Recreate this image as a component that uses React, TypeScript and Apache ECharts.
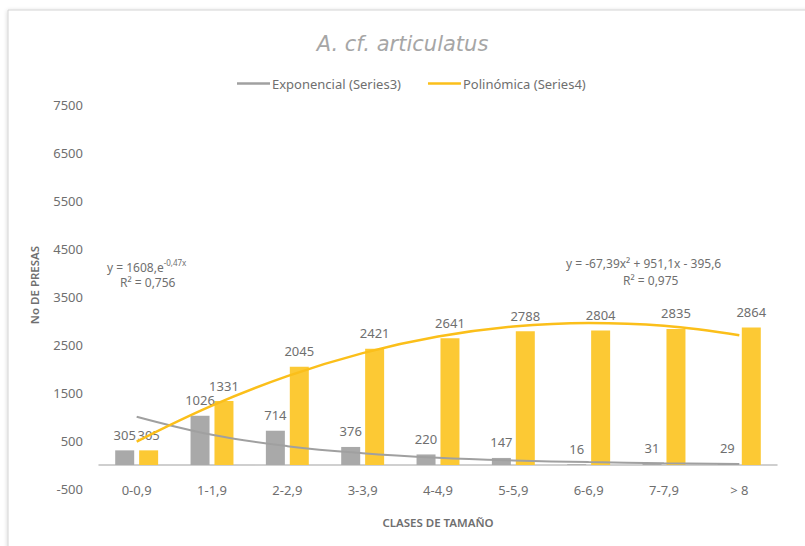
import React, { useEffect, useRef } from "react";
import * as echarts from "echarts";

const categories = ["0-0,9", "1-1,9", "2-2,9", "3-3,9", "4-4,9", "5-5,9", "6-6,9", "7-7,9", "> 8"];
const series3Values = [305, 1026, 714, 376, 220, 147, 16, 31, 29];
const series4Values = [305, 1331, 2045, 2421, 2641, 2788, 2804, 2835, 2864];
// trend curves at each category centre
const expTrendValues = [1005, 630, 393, 246, 153, 96, 60, 37, 23];
const polyTrendValues = [488, 1237, 1851, 2331, 2675, 2885, 2960, 2900, 2705];
const yMin = -500;
const yMax = 7500;
const yInterval = 1000;

const FONT = "'Noto Sans', sans-serif";
const GRAY = "#a9a9a9";
const YELLOW = "#fcc934";
const TEXT = "#6f6f6f";

export default function App() {
  const ref = useRef<HTMLDivElement>(null);
  useEffect(() => {
    if (!ref.current) return;
    const chart = echarts.init(ref.current, null, { renderer: "svg", width: 805, height: 546 });
    const labelStyle = {
      show: true,
      position: "top" as const,
      distance: 9,
      color: TEXT,
      fontFamily: FONT,
      fontSize: 13,
    };
    chart.setOption({
      animation: false,
      backgroundColor: "#ffffff",
      title: {
        text: "A. cf. articulatus",
        left: "center",
        top: 28,
        textStyle: {
          fontFamily: "'DejaVu Sans', sans-serif",
          fontStyle: "italic",
          fontWeight: "normal",
          fontSize: 21,
          color: "#a6a6a6",
        },
      },
      legend: {
        data: ["Exponencial (Series3)", "Polinómica (Series4)"],
        left: 232,
        top: 72,
        icon: "rect",
        itemWidth: 33,
        itemHeight: 2.5,
        itemGap: 27,
        textStyle: { fontFamily: FONT, fontSize: 13, color: TEXT, padding: [0, 0, 0, -3] },
      },
      grid: { left: 99, right: 28, top: 105, bottom: 57, outerBoundsMode: "none" },
      xAxis: {
        type: "category",
        data: categories,
        axisLine: { onZero: true, lineStyle: { color: "#c0c0c0", width: 1.5 } },
        axisTick: { show: false },
        axisLabel: { color: TEXT, fontFamily: FONT, fontSize: 13, margin: -6 },
        name: "CLASES DE TAMAÑO",
        nameLocation: "middle",
        nameGap: 27,
        nameTextStyle: { color: TEXT, fontFamily: FONT, fontSize: 11.5, fontWeight: 600 },
      },
      yAxis: {
        type: "value",
        min: yMin,
        max: yMax,
        interval: yInterval,
        splitLine: { show: false },
        axisLine: { show: false },
        axisTick: { show: false },
        axisLabel: {
          color: TEXT,
          fontFamily: FONT,
          fontSize: 13,
          margin: 16,
          formatter: (v: number) => String(v),
        },
      },
      series: [
        {
          name: "Series3",
          type: "bar",
          data: series3Values,
          barWidth: 19,
          barGap: "26%",
          itemStyle: { color: GRAY },
          label: labelStyle,
        },
        {
          name: "Series4",
          type: "bar",
          data: series4Values,
          barWidth: 19,
          barGap: "26%",
          itemStyle: { color: YELLOW },
          label: labelStyle,
        },
        {
          name: "Exponencial (Series3)",
          type: "line",
          data: expTrendValues,
          smooth: 0.4,
          showSymbol: false,
          symbol: "none",
          lineStyle: { color: "#a0a0a0", width: 2 },
          itemStyle: { color: "#a0a0a0" },
          z: 5,
        },
        {
          name: "Polinómica (Series4)",
          type: "line",
          data: polyTrendValues,
          smooth: 0.4,
          showSymbol: false,
          symbol: "none",
          lineStyle: { color: "#fbbf1a", width: 2.5 },
          itemStyle: { color: "#fbbf1a" },
          z: 5,
        },
      ],
      graphic: [
        {
          type: "rect",
          z: -10,
          silent: true,
          shape: { x: 8, y: 10, width: 830, height: 560 },
          style: {
            fill: "#ffffff",
            stroke: "#d4d4d4",
            lineWidth: 1,
            shadowBlur: 4,
            shadowColor: "rgba(0,0,0,0.18)",
            shadowOffsetX: 0,
            shadowOffsetY: 1,
          },
        },
        {
          type: "text",
          x: 34,
          y: 285,
          rotation: Math.PI / 2,
          style: {
            text: "No DE PRESAS",
            fontFamily: FONT,
            fontSize: 11.5,
            fontWeight: 600,
            fill: TEXT,
            align: "center",
            verticalAlign: "middle",
          },
        },
        {
          type: "text",
          x: 107,
          y: 258,
          style: {
            text: "{n|y = 1608,e}{s|-0,47x}",
            rich: {
              n: { fontFamily: FONT, fontSize: 12, fill: TEXT, lineHeight: 15, verticalAlign: "bottom" },
              s: { fontFamily: FONT, fontSize: 8, fill: TEXT, lineHeight: 15, verticalAlign: "top" },
            },
          },
        },
        {
          type: "text",
          x: 120,
          y: 276,
          style: { text: "R² = 0,756", fontFamily: FONT, fontSize: 12, fill: TEXT },
        },
        {
          type: "text",
          x: 566,
          y: 257,
          style: { text: "y = -67,39x² + 951,1x - 395,6", fontFamily: FONT, fontSize: 12, fill: TEXT },
        },
        {
          type: "text",
          x: 623,
          y: 274,
          style: { text: "R² = 0,975", fontFamily: FONT, fontSize: 12, fill: TEXT },
        },
      ],
    });
    return () => chart.dispose();
  }, []);
  return (
    <div
      ref={ref}
      style={{ position: "fixed", left: 0, top: 0, width: 805, height: 546 }}
    />
  );
}
